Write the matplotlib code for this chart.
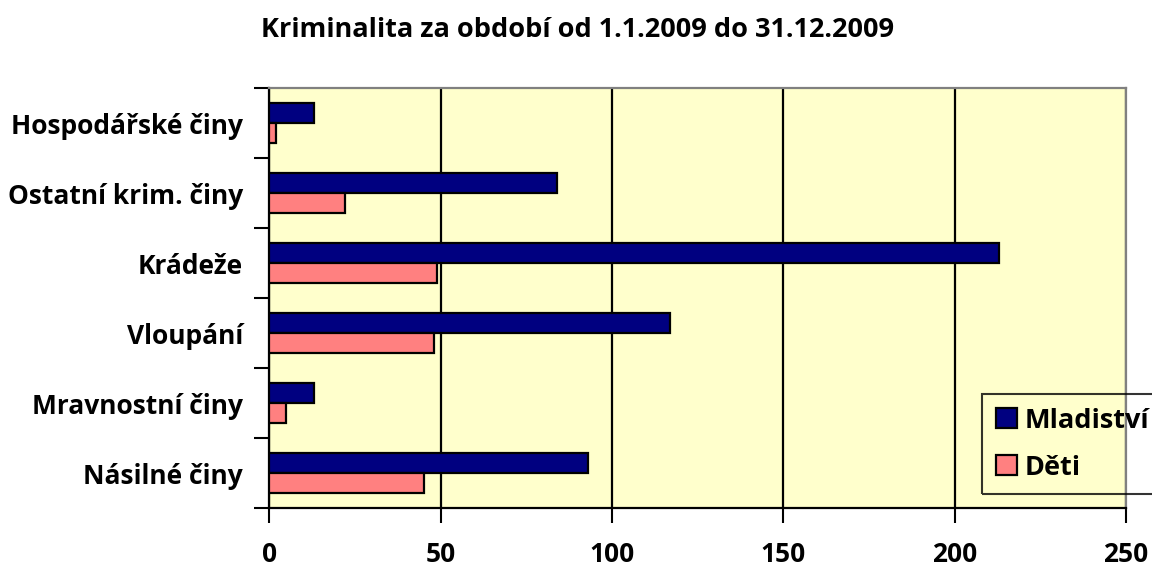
import numpy as np
import matplotlib
matplotlib.use("Agg")
import matplotlib.pyplot as plt

# data, bottom to top as in the chart
categories = ["Násilné činy", "Mravnostní činy", "Vloupání", "Krádeže",
              "Ostatní krim. činy", "Hospodářské činy"]
mladistvi = [93, 13, 117, 213, 84, 13]
deti = [45, 5, 48, 49, 22, 2]
xticks = [0, 50, 100, 150, 200, 250]

plt.rcParams['font.family'] = ['Open Sans', 'DejaVu Sans']
plt.rcParams['font.weight'] = 'bold'

fig = plt.figure(figsize=(11.52, 5.69), dpi=100)
ax = fig.add_axes([0.2338, 0.1072, 0.9774 - 0.2338, 0.8453 - 0.1072])
ax.set_facecolor("#FFFFCC")

y = np.arange(len(categories))
h = 0.2857
ax.barh(y + h / 2, mladistvi, height=h, color="#000080", edgecolor="black",
        linewidth=1.6, label="Mladiství", zorder=3)
ax.barh(y - h / 2, deti, height=h, color="#FF8080", edgecolor="black",
        linewidth=1.6, label="Děti", zorder=3)

ax.set_xlim(0, 250)
ax.set_ylim(-0.5, len(categories) - 0.5)
ax.set_xticks(xticks)
ax.set_xticklabels([str(v) for v in xticks], fontsize=19, fontweight='bold')
ax.set_yticks(y)
ax.set_yticklabels(categories, fontsize=19, fontweight='bold')
ax.tick_params(axis='y', length=0, pad=19)
ax.set_yticks(np.arange(-0.5, len(categories)), minor=True)
ax.tick_params(axis='y', which='minor', length=11, width=1.5, direction='out')
ax.tick_params(axis='x', length=11, width=1.5, direction='out', pad=13)

ax.xaxis.grid(True, color="black", linewidth=1.6, zorder=1)
ax.set_axisbelow(True)
for s in ['left', 'bottom']:
    ax.spines[s].set_color("black")
    ax.spines[s].set_linewidth(1.6)
for s in ['top', 'right']:
    ax.spines[s].set_color("#808080")
    ax.spines[s].set_linewidth(1.6)

fig.text(0.5013, 0.9355, "Kriminalita za období od 1.1.2009 do 31.12.2009",
         ha='center', va='baseline', fontsize=19.5, fontweight='bold')

# legend box runs off the right edge of the figure, as in the original
leg = fig.legend(loc='upper left', bbox_to_anchor=(0.8524, 0.3076, 0.2, 0),
                 mode='expand',
                 fontsize=19.5, frameon=True, fancybox=False, edgecolor="black",
                 handlelength=0.78, handleheight=0.78, handletextpad=0.3,
                 borderpad=0.5, borderaxespad=0, labelspacing=0.78)
leg.get_frame().set_linewidth(1.5)
leg.get_frame().set_facecolor("none")

fig.savefig("out.png", dpi=100)
